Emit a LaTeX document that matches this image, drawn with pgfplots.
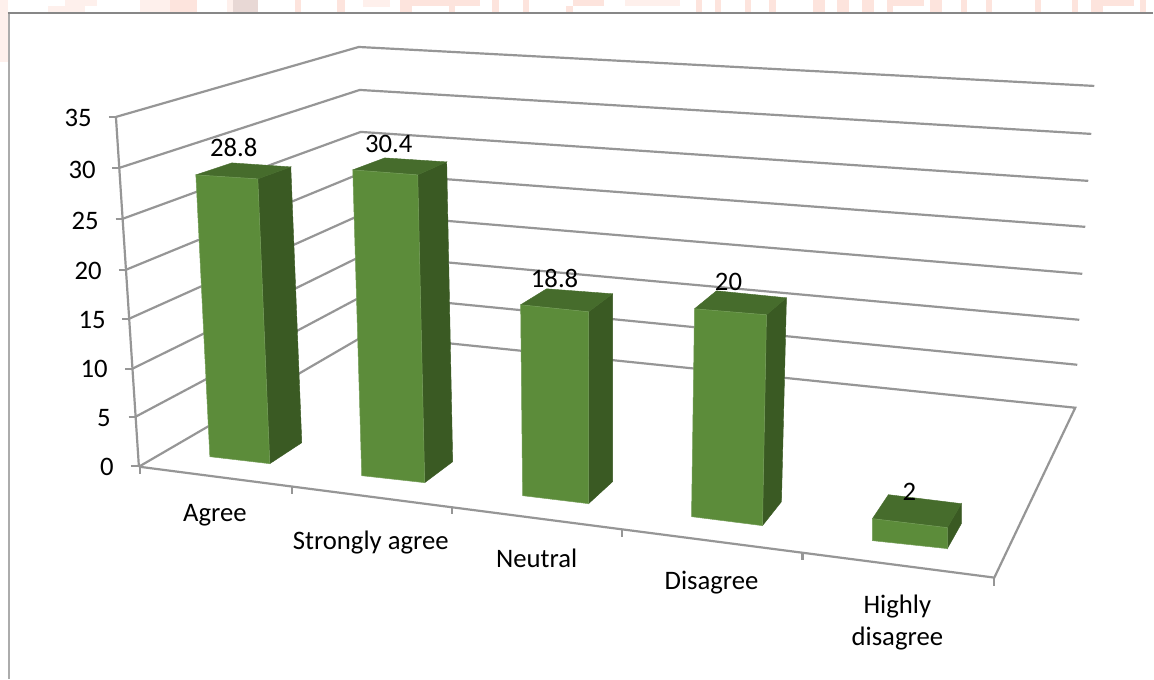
\documentclass[border=0pt]{standalone}
\usepackage{pgfplots}
\pgfplotsset{compat=1.18}
\usepackage{fontspec}
\setmainfont{Carlito}
\definecolor{barfront}{RGB}{92,140,58}
\definecolor{barside}{RGB}{58,90,35}
\definecolor{bartop}{RGB}{70,108,44}
\definecolor{rulegray}{RGB}{150,150,150}
\definecolor{framegray}{RGB}{135,135,135}
\definecolor{frameside}{RGB}{172,172,172}
\definecolor{tintA}{RGB}{253,228,221}
\definecolor{tintB}{RGB}{254,240,236}
\definecolor{tintC}{RGB}{232,216,213}

% Corners of a bar's footprint, and the drift of its edges per unit of value
\newcommand\barbase[6]{\def\BLx{#1}\def\BLy{#2}\def\BRx{#3}\def\BRy{#4}\def\RBx{#5}\def\RBy{#6}}
\newcommand\barrise[6]{\def\uLx{#1}\def\uLy{#2}\def\uRx{#3}\def\uRy{#4}\def\uBx{#5}\def\uBy{#6}}
% Value, then the offset from the rear right to the rear left corner of the top
\newcommand\solidbar[3]{%
  \pgfmathsetmacro\TLx{\BLx+#1*\uLx}\pgfmathsetmacro\TLy{\BLy+#1*\uLy}%
  \pgfmathsetmacro\TRx{\BRx+#1*\uRx}\pgfmathsetmacro\TRy{\BRy+#1*\uRy}%
  \pgfmathsetmacro\TBx{\RBx+#1*\uBx}\pgfmathsetmacro\TBy{\RBy+#1*\uBy}%
  \pgfmathsetmacro\TAx{\TBx+#2}\pgfmathsetmacro\TAy{\TBy+#3}%
  \addplot[fill=barside,draw=barside,line width=.4pt] coordinates
    {(\BRx,\BRy) (\RBx,\RBy) (\TBx,\TBy) (\TRx,\TRy)} -- cycle;
  \addplot[fill=bartop,draw=bartop,line width=.4pt] coordinates
    {(\TLx,\TLy) (\TRx,\TRy) (\TBx,\TBy) (\TAx,\TAy)} -- cycle;
  \addplot[fill=barfront,draw=barfront!85!white,line width=.5pt] coordinates
    {(\BLx,\BLy) (\BRx,\BRy) (\TRx,\TRy) (\TLx,\TLy)} -- cycle;
}
% A tinted block of the strip above the panel
\newcommand\tint[5]{\addplot[fill=#1,draw=none] coordinates {(#2,#4) (#3,#4) (#3,#5) (#2,#5)} -- cycle;}

\begin{document}
\begin{tikzpicture}[every node/.style={font=\fontsize{26.8}{32}\selectfont}]
\begin{axis}[
  x=1bp, y=-1bp, xmin=0, xmax=1154, ymin=0, ymax=679,
  hide axis, scale only axis, clip=false,
  no markers,
  grid line/.style={rulegray,line width=2.2pt},
]
% page ground
\addplot[fill=white,draw=none] coordinates {(0,0) (1154,0) (1154,679) (0,679)} -- cycle;
% tinted strip above the panel
\tint{tintB}{0}{8}{0}{62}
\tint{tintB}{65}{97}{0}{6}
\tint{tintB}{48}{85}{6}{13}
\tint{tintB}{140}{170}{0}{13}
\tint{tintA}{170}{197}{0}{13}
\tint{tintB}{227}{233}{0}{13}
\tint{tintC}{233}{258}{0}{13}
\tint{tintA}{295}{301}{0}{13}
\tint{tintA}{337}{345}{0}{13}
\tint{tintB}{363}{390}{0}{7}
\tint{tintA}{400}{480}{0}{6}
\tint{tintA}{400}{412}{6}{13}
\tint{tintA}{449}{455}{6}{13}
\tint{tintA}{492}{499}{0}{13}
\tint{tintA}{523}{529}{0}{13}
\tint{tintA}{573}{604}{0}{6}
\tint{tintA}{566}{573}{6}{13}
\tint{tintB}{625}{680}{0}{6}
\tint{tintA}{696}{702}{0}{13}
\tint{tintA}{715}{721}{0}{13}
\tint{tintA}{746}{752}{0}{13}
\tint{tintA}{770}{777}{0}{13}
\tint{tintA}{814}{826}{0}{13}
\tint{tintA}{838}{850}{0}{13}
\tint{tintA}{863}{875}{0}{13}
\tint{tintA}{888}{925}{0}{6}
\tint{tintA}{888}{894}{6}{13}
\tint{tintA}{931}{943}{0}{13}
\tint{tintA}{962}{968}{0}{13}
\tint{tintA}{987}{993}{0}{13}
\tint{tintA}{1036}{1042}{0}{13}
\tint{tintA}{1073}{1079}{0}{13}
\tint{tintA}{1092}{1135}{0}{6}
\tint{tintA}{1092}{1104}{6}{13}
\tint{tintA}{1141}{1147}{0}{13}
% panel frame
\addplot[frameside,line width=2.4pt] coordinates {(9,679) (9,13)};
\addplot[framegray,line width=1.6pt] coordinates {(8,13) (1154,13)};

% side wall and back wall rules, one per axis level from 35 down to 5
\addplot[grid line] coordinates {(116,117) (359,47) (1095,86)};
\addplot[grid line] coordinates {(119.3,168) (360,90) (1092,134)};
\addplot[grid line] coordinates {(122.6,219) (361,132) (1089,181)};
\addplot[grid line] coordinates {(125.9,270) (362,173) (1086,227)};
\addplot[grid line] coordinates {(129.1,319) (363,214) (1083,274)};
\addplot[grid line] coordinates {(132.4,369) (364,255) (1080,320)};
\addplot[grid line] coordinates {(135.7,417) (365,295) (1078,365)};
% floor outline
\addplot[grid line] coordinates {(139,467) (366,335) (1076,408) (995,578) (139,467)};
% value axis and its ticks
\addplot[grid line] coordinates {(116,117) (139,467)};
\addplot[grid line] coordinates {(109,117) (116,117)};
\addplot[grid line] coordinates {(112.3,168) (119.3,168)};
\addplot[grid line] coordinates {(115.6,219) (122.6,219)};
\addplot[grid line] coordinates {(118.9,270) (125.9,270)};
\addplot[grid line] coordinates {(122.1,319) (129.1,319)};
\addplot[grid line] coordinates {(125.4,369) (132.4,369)};
\addplot[grid line] coordinates {(128.7,417) (135.7,417)};
\addplot[grid line] coordinates {(131,466) (139,466)};
% category ticks
\addplot[grid line] coordinates {(140,467) (140,474)};
\addplot[grid line] coordinates {(292,487) (292,494)};
\addplot[grid line] coordinates {(452,507) (452,514)};
\addplot[grid line] coordinates {(622.5,530) (622.5,537)};
\addplot[grid line] coordinates {(803,553) (803,560)};
\addplot[grid line] coordinates {(995,578) (995,586)};

% bars
\barbase{210}{457}{270}{464}{302}{443}
\barrise{-0.486}{-9.792}{-0.417}{-9.896}{-0.382}{-9.583}
\solidbar{28.8}{-59}{-4}
\barbase{362}{476}{425}{483}{453}{462}
\barrise{-0.296}{-10.066}{-0.230}{-10.132}{-0.197}{-9.868}
\solidbar{30.4}{-62}{-4}
\barbase{523}{496}{589}{504}{613}{482}
\barrise{-0.106}{-10.160}{0}{-10.213}{0}{-10}
\solidbar{18.8}{-66}{-5}
\barbase{692}{517}{763}{526}{782}{502}
\barrise{0.15}{-10.4}{0.2}{-10.55}{0.25}{-10.2}
\solidbar{20}{-70}{-7}
\barbase{873}{541}{948}{549}{962}{524}
\barrise{0}{-11}{0}{-10.5}{0}{-10}
\solidbar{2}{-73}{-9}

% value labels on the bars
\node at (axis cs:234,148) {28.8};
\node at (axis cs:389,144) {30.4};
\node at (axis cs:555,279) {18.8};
\node at (axis cs:729,282) {20};
\node at (axis cs:910,492) {2};

% value axis labels
\node[anchor=east,inner sep=0pt] at (axis cs:92,118) {35};
\node[anchor=east,inner sep=0pt] at (axis cs:96,170) {30};
\node[anchor=east,inner sep=0pt] at (axis cs:99,221) {25};
\node[anchor=east,inner sep=0pt] at (axis cs:102,271) {20};
\node[anchor=east,inner sep=0pt] at (axis cs:106,320) {15};
\node[anchor=east,inner sep=0pt] at (axis cs:108,369) {10};
\node[anchor=east,inner sep=0pt] at (axis cs:111,418) {5};
\node[anchor=east,inner sep=0pt] at (axis cs:114,467) {0};

% category labels
\node at (axis cs:215,516) {Agree};
\node at (axis cs:371,543) {Strongly agree};
\node at (axis cs:537,559) {Neutral};
\node at (axis cs:712,583) {Disagree};
\node at (axis cs:898,607) {Highly};
\node at (axis cs:898,639) {disagree};
\end{axis}
\end{tikzpicture}
\end{document}
